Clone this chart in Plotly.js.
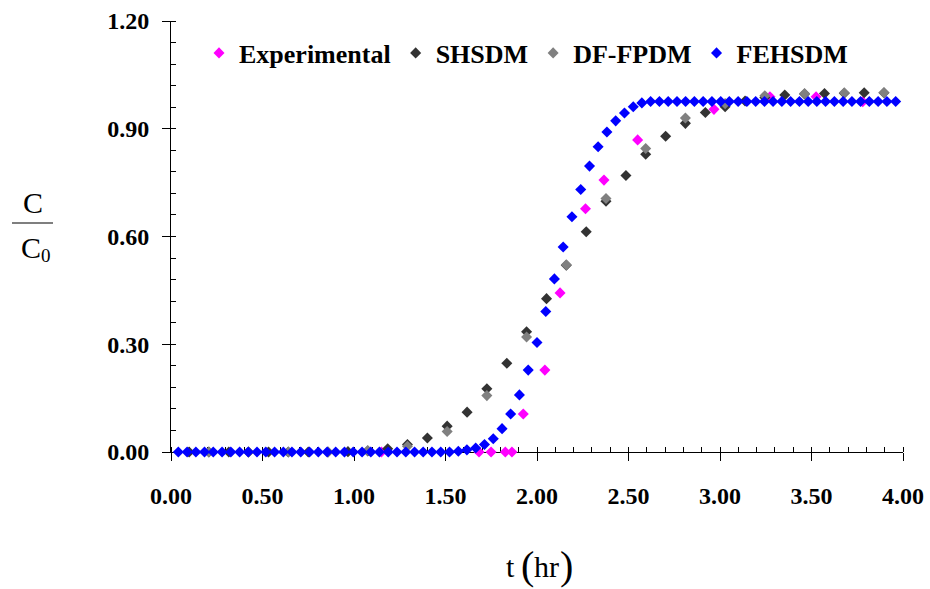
<!DOCTYPE html>
<html>
<head>
<meta charset="utf-8">
<script src="https://cdn.plot.ly/plotly-3.0.1.min.js"></script>
<style>html,body{margin:0;padding:0;background:#fff;}#chart{width:930px;height:589px;}</style>
</head>
<body>
<div id="chart"></div>
<script>
// Experimental
var expT = [1.150, 1.683, 1.749, 1.827, 1.863, 1.925, 2.043, 2.126, 2.265, 2.366, 2.550, 2.967, 3.273, 3.525, 3.780];
var expC = [0.000, 0.000, 0.000, 0.000, 0.000, 0.106, 0.228, 0.443, 0.677, 0.757, 0.869, 0.954, 0.989, 0.989, 0.975];

// SHSDM
var shT = [0.099, 0.207, 0.316, 0.424, 0.533, 0.641, 0.750, 0.858, 0.967, 1.075, 1.184, 1.292, 1.401, 1.509, 1.618, 1.726, 1.835, 1.943,
           2.052, 2.160, 2.269, 2.377, 2.486, 2.594, 2.703, 2.811, 2.920, 3.028, 3.137, 3.245, 3.354, 3.462, 3.571, 3.679, 3.788, 3.896];
var shC = [0, 0, 0, 0, 0, 0, 0, 0, 0.001, 0.003, 0.009, 0.021, 0.039, 0.072, 0.111, 0.176, 0.247, 0.335,
           0.427, 0.520, 0.613, 0.698, 0.770, 0.829, 0.879, 0.915, 0.945, 0.961, 0.977, 0.987, 0.994, 0.997, 0.998, 0.999, 1.000, 1.000];

// DF-FPDM
var dfT = [0.207, 0.424, 0.641, 0.858, 1.075, 1.292, 1.509, 1.726, 1.943, 2.160, 2.377, 2.594, 2.811, 3.028, 3.245, 3.462, 3.679, 3.896];
var dfC = [0, 0, 0, 0, 0.004, 0.016, 0.057, 0.157, 0.320, 0.521, 0.706, 0.845, 0.930, 0.970, 0.992, 0.998, 1.000, 1.000];

// FEHSDM
var feT = [0.040, 0.088, 0.136, 0.183, 0.231, 0.279, 0.327, 0.375, 0.422, 0.470, 0.518, 0.566, 0.614, 0.661, 0.709, 0.757, 0.805, 0.853,
           0.900, 0.948, 0.996, 1.044, 1.092, 1.139, 1.187, 1.235, 1.283, 1.331, 1.378, 1.426, 1.474, 1.522, 1.570, 1.617, 1.665, 1.713,
           1.761, 1.809, 1.856, 1.904, 1.952, 2.000, 2.048, 2.095, 2.143, 2.191, 2.239, 2.287, 2.334, 2.382, 2.430, 2.478, 2.526, 2.573,
           2.621, 2.669, 2.717, 2.765, 2.812, 2.860, 2.908, 2.956, 3.004, 3.051, 3.099, 3.147, 3.195, 3.243, 3.290, 3.338, 3.386, 3.434,
           3.482, 3.529, 3.577, 3.625, 3.673, 3.721, 3.768, 3.816, 3.864, 3.912, 3.960];
var feC = [0, 0, 0, 0, 0, 0, 0, 0, 0, 0, 0, 0, 0, 0, 0, 0, 0, 0,
           0, 0, 0, 0, 0, 0, 0, 0, 0, 0, 0, 0, 0, 0, 0.002, 0.006, 0.011, 0.021,
           0.037, 0.065, 0.106, 0.159, 0.228, 0.305, 0.391, 0.482, 0.571, 0.655, 0.731, 0.796, 0.850, 0.891, 0.922, 0.944, 0.961, 0.972,
           0.976, 0.976, 0.976, 0.976, 0.976, 0.976, 0.976, 0.976, 0.976, 0.976, 0.976, 0.976, 0.976, 0.976, 0.976, 0.976, 0.976, 0.976,
           0.976, 0.976, 0.976, 0.976, 0.976, 0.976, 0.976, 0.976, 0.976, 0.976, 0.976];

var seriesNames = ['Experimental', 'SHSDM', 'DF-FPDM', 'FEHSDM'];
var seriesColors = ['#FF00FF', '#333333', '#808080', '#0000FF'];
var xTickVals = [0, 0.5, 1, 1.5, 2, 2.5, 3, 3.5, 4];
var yTickVals = [0, 0.3, 0.6, 0.9, 1.2];

var serif = 'Liberation Serif, Times New Roman, serif';
var xs = [expT, shT, dfT, feT], ys = [expC, shC, dfC, feC];
var traces = seriesNames.map(function (n, i) {
  return {
    type: 'scatter', mode: 'markers', name: n, x: xs[i], y: ys[i], cliponaxis: false,
    marker: {symbol: 'diamond', size: 8.5, color: seriesColors[i], line: {width: 0}}
  };
});

var L = 171, R = 27, T = 21, B = 137;
var W = 930, H = 589, pw = W - L - R, ph = H - T - B;
function px(x) { return (x - L) / pw; }
function py(y) { return (H - B - y) / ph; }

var axisCommon = {
  showgrid: false, zeroline: false, showline: true, linecolor: '#000', linewidth: 1,
  ticks: 'outside', ticklen: 8, tickwidth: 1, tickcolor: '#000',
  tickfont: {family: serif, size: 24, color: '#000', weight: 'bold'},
  tickformat: '.2f', layer: 'below traces', fixedrange: true
};

function ann(x, y, text, size) {
  return {xref: 'paper', yref: 'paper', x: px(x), y: py(y), xanchor: 'center', yanchor: 'middle',
          showarrow: false, text: text, font: {family: serif, size: size, color: '#000'}};
}

var layout = {
  width: W, height: H,
  margin: {l: L, r: R, t: T, b: B, pad: 0},
  paper_bgcolor: '#fff', plot_bgcolor: '#fff',
  showlegend: true,
  legend: {
    orientation: 'h', x: px(199), y: py(53), xanchor: 'left', yanchor: 'middle',
    font: {family: serif, size: 26, color: '#000', weight: 'bold'},
    bgcolor: 'rgba(0,0,0,0)', itemwidth: 30, tracegroupgap: 0
  },
  xaxis: Object.assign({}, axisCommon, {
    range: [0, 4], tickmode: 'array', tickvals: xTickVals, ticklabelstandoff: 14,
    minor: {dtick: 0.1, ticks: 'inside', ticklen: 5, tickcolor: '#000', tickwidth: 1}
  }),
  yaxis: Object.assign({}, axisCommon, {
    range: [0, 1.2], tickmode: 'array', tickvals: yTickVals, ticklabelstandoff: 8,
    minor: {dtick: 0.06, ticks: 'inside', ticklen: 5, tickcolor: '#000', tickwidth: 1}
  }),
  annotations: [
    ann(510, 567, 't', 30),
    ann(527, 565, '(', 40),
    ann(546, 567, 'hr', 30),
    ann(566, 565, ')', 40),
    ann(33, 202, 'C', 30),
    ann(31, 247, 'C', 30),
    ann(46, 256, '0', 19)
  ],
  shapes: [
    {type: 'line', xref: 'paper', yref: 'paper', x0: px(12), x1: px(53), y0: py(223), y1: py(223),
     line: {color: '#000', width: 1.2}}
  ]
};

Plotly.newPlot('chart', traces, layout, {displayModeBar: false, staticPlot: true});
</script>
</body>
</html>
